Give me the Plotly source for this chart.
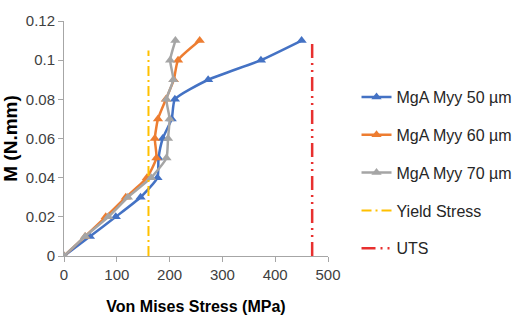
import plotly.graph_objects as go

# Data
moment = [0, 0.01, 0.02, 0.03, 0.04, 0.05, 0.06, 0.07, 0.08, 0.09, 0.10, 0.11]
stress_50 = [0, 49, 98, 145, 177, 179, 187, 204, 210, 273, 373, 450]
stress_60 = [0, 40, 79, 117, 157, 175, 172, 178, 193, 208, 216, 257]
stress_70 = [0, 40, 84, 121, 165, 194, 197, 200, 194, 207, 201, 211]
yield_x = [160, 160]
yield_y = [0, 0.105]
uts_x = [470, 470]
uts_y = [0, 0.11]

x_ticks = [0, 100, 200, 300, 400, 500]
y_ticks = [0, 0.02, 0.04, 0.06, 0.08, 0.10, 0.12]
y_ticklabels = ["0", "0.02", "0.04", "0.06", "0.08", "0.1", "0.12"]

FONT = "Liberation Sans, Arial, sans-serif"

fig = go.Figure()
series = [
    ("MgA Myy 50 µm", stress_50, "#4472C4"),
    ("MgA Myy 60 µm", stress_60, "#ED7D31"),
    ("MgA Myy 70 µm", stress_70, "#A5A5A5"),
]
for i, (name, xs, col) in enumerate(series):
    fig.add_trace(go.Scatter(
        x=xs, y=moment, name=name, mode="lines+markers",
        line=dict(color=col, width=2.5, shape="spline", smoothing=0.5),
        marker=dict(symbol="triangle-up", size=9, color=col),
        legendgroup=f"g{i}",
    ))

fig.add_trace(go.Scatter(
    x=yield_x, y=yield_y, name="Yield Stress", mode="lines",
    line=dict(color="#FFC000", width=2, dash="10px,4px,2px,4px"),
    legendgroup="g3",
))
fig.add_trace(go.Scatter(
    x=uts_x, y=uts_y, name="UTS", mode="lines",
    line=dict(color="#E8302F", width=2.5, dash="14px,5px,2px,5px,2px,5px"),
    legendgroup="g4",
))

fig.update_layout(
    width=516, height=320,
    margin=dict(l=64, r=188, t=21, b=64, autoexpand=False),
    paper_bgcolor="white", plot_bgcolor="white",
    font=dict(family=FONT, size=15, color="#404040"),
    showlegend=True,
    legend=dict(
        x=1.108, xanchor="left", y=0.355, yanchor="middle",
        font=dict(family=FONT, size=16, color="#262626"),
        tracegroupgap=14, bgcolor="rgba(0,0,0,0)",
    ),
    xaxis=dict(
        range=[0, 500], tickvals=x_ticks, showgrid=False, zeroline=False,
        showline=True, linecolor="#A6A6A6", linewidth=1, automargin=False,
        ticks="outside", ticklen=5, tickcolor="#A6A6A6",
        tickfont=dict(family=FONT, size=15, color="#404040"),
        title=dict(text="<b>Von Mises Stress (MPa)</b>", standoff=18,
                   font=dict(family=FONT, size=16, color="#000000")),
    ),
    yaxis=dict(
        range=[0, 0.12], tickvals=y_ticks, ticktext=y_ticklabels,
        showgrid=False, zeroline=False, automargin=False,
        showline=True, linecolor="#A6A6A6", linewidth=1,
        ticks="outside", ticklen=5, tickcolor="#A6A6A6",
        tickfont=dict(family=FONT, size=15, color="#404040"),
        title=dict(text="<b>M (N.mm)</b>", standoff=8,
                   font=dict(family=FONT, size=19, color="#000000")),
    ),
)

fig.write_html("out.html")
